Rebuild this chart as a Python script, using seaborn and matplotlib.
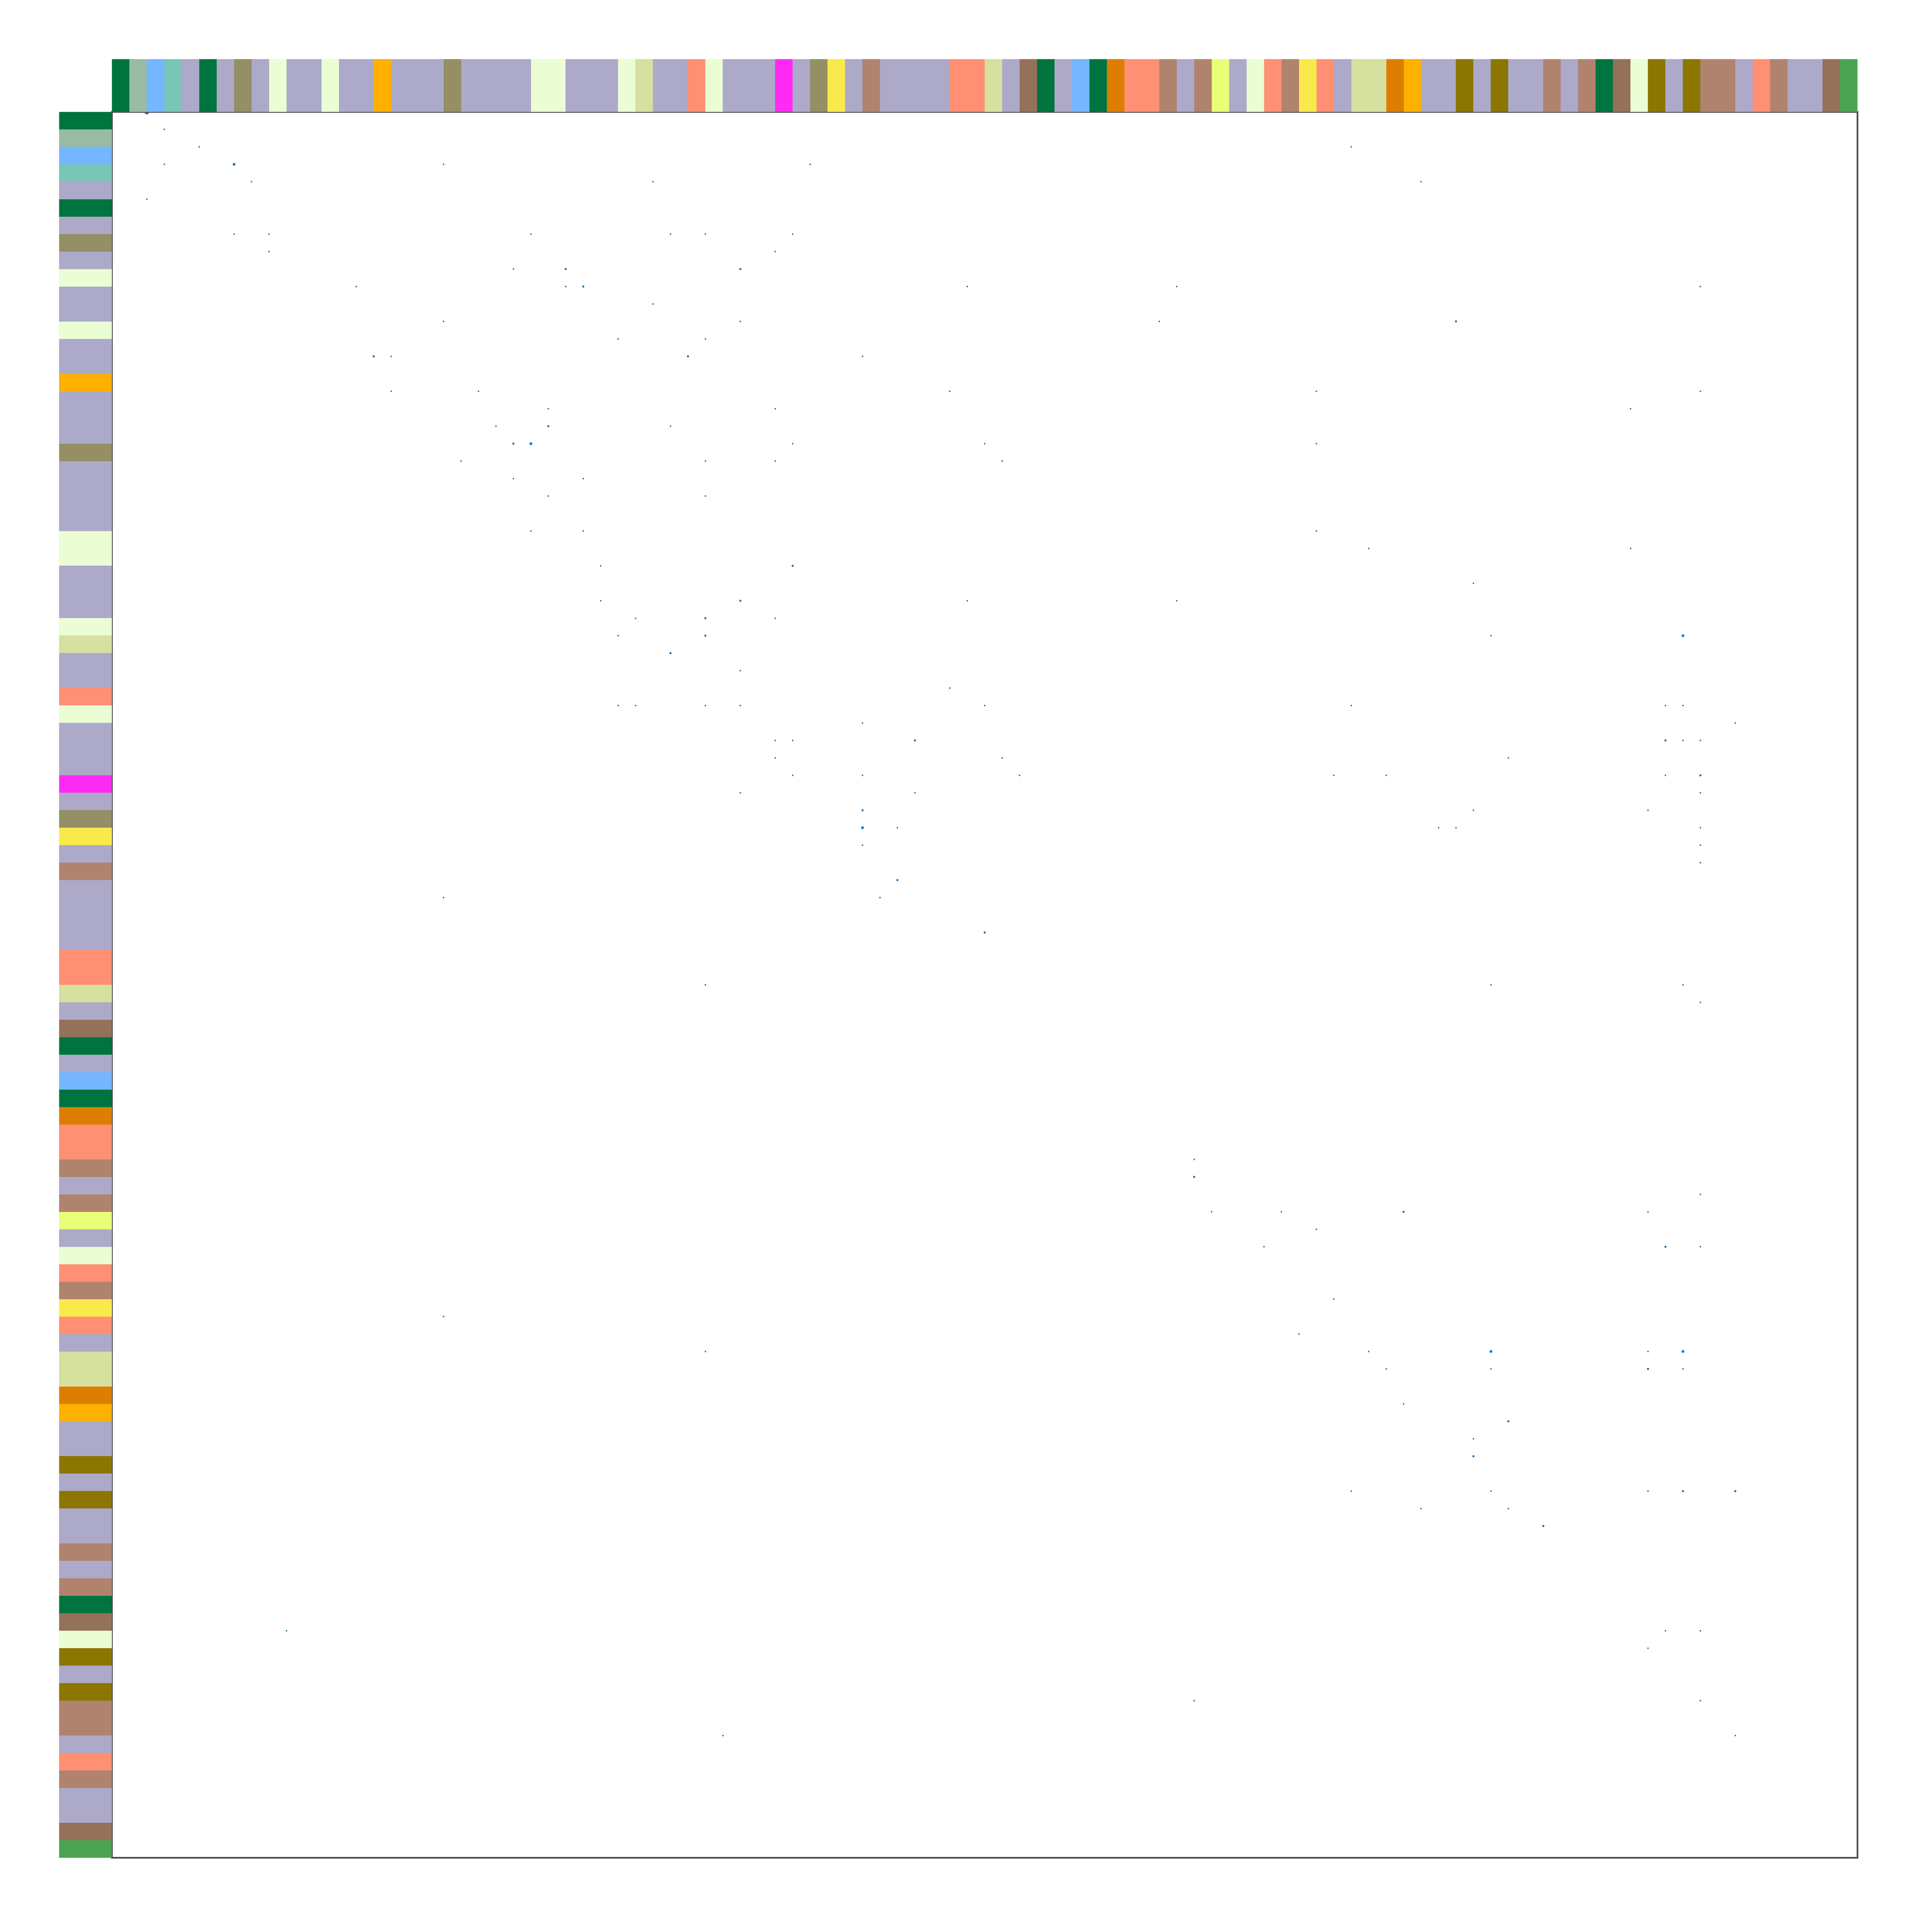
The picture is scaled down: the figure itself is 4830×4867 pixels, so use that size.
import numpy as np
import pandas as pd
import matplotlib
matplotlib.use("Agg")
import matplotlib.pyplot as plt
from matplotlib.colors import ListedColormap
import seaborn as sns

# group of each node, same order on rows and columns (100 nodes)
node_groups = [
    "G1", "G2", "G3", "G4", "G5", "G1", "G5", "G6", "G5", "G7",
    "G5", "G5", "G7", "G5", "G5", "G8", "G5", "G5", "G5", "G6",
    "G5", "G5", "G5", "G5", "G7", "G7", "G5", "G5", "G5", "G7",
    "G9", "G5", "G5", "G10", "G7", "G5", "G5", "G5", "G11", "G5",
    "G6", "G12", "G5", "G13", "G5", "G5", "G5", "G5", "G10", "G10",
    "G9", "G5", "G14", "G1", "G5", "G3", "G1", "G15", "G10", "G10",
    "G13", "G5", "G13", "G16", "G5", "G7", "G10", "G13", "G12", "G10",
    "G5", "G9", "G9", "G15", "G8", "G5", "G5", "G17", "G5", "G17",
    "G5", "G5", "G13", "G5", "G13", "G1", "G14", "G7", "G17", "G5",
    "G17", "G13", "G13", "G5", "G10", "G13", "G5", "G5", "G14", "G18",
]

group_colors = {
    "G1": "#00743f", "G2": "#98bba5", "G3": "#74b6ff", "G4": "#78c6b7",
    "G5": "#ada9c8", "G6": "#948f65", "G7": "#eafdd4", "G8": "#ffb000",
    "G9": "#d6e09f", "G10": "#ff9073", "G11": "#ff2bf5", "G12": "#f9ea4b",
    "G13": "#b0836f", "G14": "#947159", "G15": "#dd7e00", "G16": "#e9ff77",
    "G17": "#8b7600", "G18": "#4aa553",
}

# links: (column, row, weight)
links = [
    (2, 0, 4), (3, 1, 1), (5, 2, 1), (71, 2, 1),
    (3, 3, 1), (7, 3, 3), (19, 3, 1), (40, 3, 1),
    (8, 4, 1), (31, 4, 1), (75, 4, 1), (2, 5, 1),
    (7, 7, 1), (9, 7, 1), (24, 7, 1), (32, 7, 1), (34, 7, 1), (39, 7, 1),
    (9, 8, 1), (38, 8, 1),
    (23, 9, 1), (26, 9, 2), (36, 9, 2),
    (14, 10, 1), (26, 10, 1), (27, 10, 2), (49, 10, 1), (61, 10, 1), (91, 10, 1),
    (31, 11, 1),
    (19, 12, 1), (36, 12, 1), (60, 12, 1), (77, 12, 2),
    (29, 13, 1), (34, 13, 1),
    (15, 14, 2), (16, 14, 1), (33, 14, 2), (43, 14, 1),
    (16, 16, 1), (21, 16, 1), (48, 16, 1), (69, 16, 1), (91, 16, 1),
    (25, 17, 1), (38, 17, 1), (87, 17, 1),
    (22, 18, 1), (25, 18, 2), (32, 18, 1),
    (23, 19, 2), (24, 19, 3), (39, 19, 1), (50, 19, 1), (69, 19, 1),
    (20, 20, 1), (34, 20, 1), (38, 20, 1), (51, 20, 1),
    (23, 21, 1), (27, 21, 1),
    (25, 22, 1), (34, 22, 1),
    (24, 24, 1), (27, 24, 1), (69, 24, 1),
    (72, 25, 1), (87, 25, 1),
    (28, 26, 1), (39, 26, 2),
    (78, 27, 1),
    (28, 28, 1), (36, 28, 2), (49, 28, 1), (61, 28, 1),
    (30, 29, 1), (34, 29, 2), (38, 29, 1),
    (29, 30, 1), (34, 30, 2), (79, 30, 1), (90, 30, 3),
    (32, 31, 2), (36, 32, 1), (48, 33, 1),
    (29, 34, 1), (30, 34, 1), (34, 34, 1), (36, 34, 1), (50, 34, 1),
    (71, 34, 1), (89, 34, 1), (90, 34, 1),
    (43, 35, 1), (93, 35, 1),
    (38, 36, 1), (39, 36, 1), (46, 36, 2), (89, 36, 2), (90, 36, 1), (91, 36, 1),
    (38, 37, 1), (51, 37, 1), (80, 37, 1),
    (39, 38, 1), (43, 38, 1), (52, 38, 1), (70, 38, 1), (73, 38, 1),
    (89, 38, 1), (91, 38, 2),
    (36, 39, 1), (46, 39, 1), (91, 39, 1),
    (43, 40, 2), (78, 40, 1), (88, 40, 1),
    (43, 41, 3), (45, 41, 1), (76, 41, 1), (77, 41, 1), (91, 41, 1),
    (43, 42, 1), (91, 42, 1), (91, 43, 1),
    (45, 44, 2), (19, 45, 1), (44, 45, 1), (50, 47, 2),
    (34, 50, 1), (79, 50, 1), (90, 50, 1), (91, 51, 1),
    (62, 60, 1), (62, 61, 2), (91, 62, 1),
    (63, 63, 1), (67, 63, 1), (74, 63, 2), (88, 63, 1),
    (69, 64, 1), (66, 65, 1), (89, 65, 2), (91, 65, 1),
    (70, 68, 1), (19, 69, 1), (68, 70, 1),
    (34, 71, 1), (72, 71, 1), (79, 71, 3), (88, 71, 1), (90, 71, 3),
    (73, 72, 1), (79, 72, 1), (88, 72, 2), (90, 72, 1),
    (74, 74, 1), (80, 75, 2), (78, 76, 1), (78, 77, 2),
    (71, 79, 1), (79, 79, 1), (88, 79, 1), (90, 79, 2), (93, 79, 2),
    (75, 80, 1), (80, 80, 1), (82, 81, 2),
    (10, 87, 1), (89, 87, 1), (91, 87, 1), (88, 88, 1),
    (62, 91, 1), (91, 91, 1), (35, 93, 1), (93, 93, 1),
]

sns.set_theme(style="white")

group_order = list(group_colors.keys())
cmap = ListedColormap([group_colors[g] for g in group_order])
codes = np.array([group_order.index(g) for g in node_groups])
n = len(node_groups)

links_df = pd.DataFrame(links, columns=["col", "row", "weight"])

W, H, DPI = 4830, 4867, 300
fig = plt.figure(figsize=(W / DPI, H / DPI), dpi=DPI)

left, right, top, bottom = 282, 4680, 282, 4680
strip = 133

ax_main = fig.add_axes([left / W, 1 - bottom / H, (right - left) / W, (bottom - top) / H])
ax_col = fig.add_axes([left / W, 1 - top / H, (right - left) / W, strip / H])
ax_row = fig.add_axes([(left - strip) / W, 1 - bottom / H, strip / W, (bottom - top) / H])

# main panel: links as dots at grid intersections
sns.scatterplot(data=links_df, x="col", y="row", size="weight",
                sizes={1: 0.9, 2: 1.7, 3: 2.8, 4: 8.3}, color="#1f77b4",
                linewidth=0, legend=False, ax=ax_main)
ax_main.set_xlim(0, n)
ax_main.set_ylim(n, 0)
ax_main.set_xticks([])
ax_main.set_yticks([])
ax_main.set_xlabel("")
ax_main.set_ylabel("")
for sp in ax_main.spines.values():
    sp.set_visible(True)
    sp.set_color("#4a4a4a")
    sp.set_linewidth(1.0)

# group colour strips
kw = dict(cmap=cmap, vmin=-0.5, vmax=len(group_order) - 0.5, cbar=False,
          xticklabels=False, yticklabels=False)
sns.heatmap(codes[np.newaxis, :], ax=ax_col, **kw)
sns.heatmap(codes[:, np.newaxis], ax=ax_row, **kw)

fig.savefig("out.png", dpi=DPI)
